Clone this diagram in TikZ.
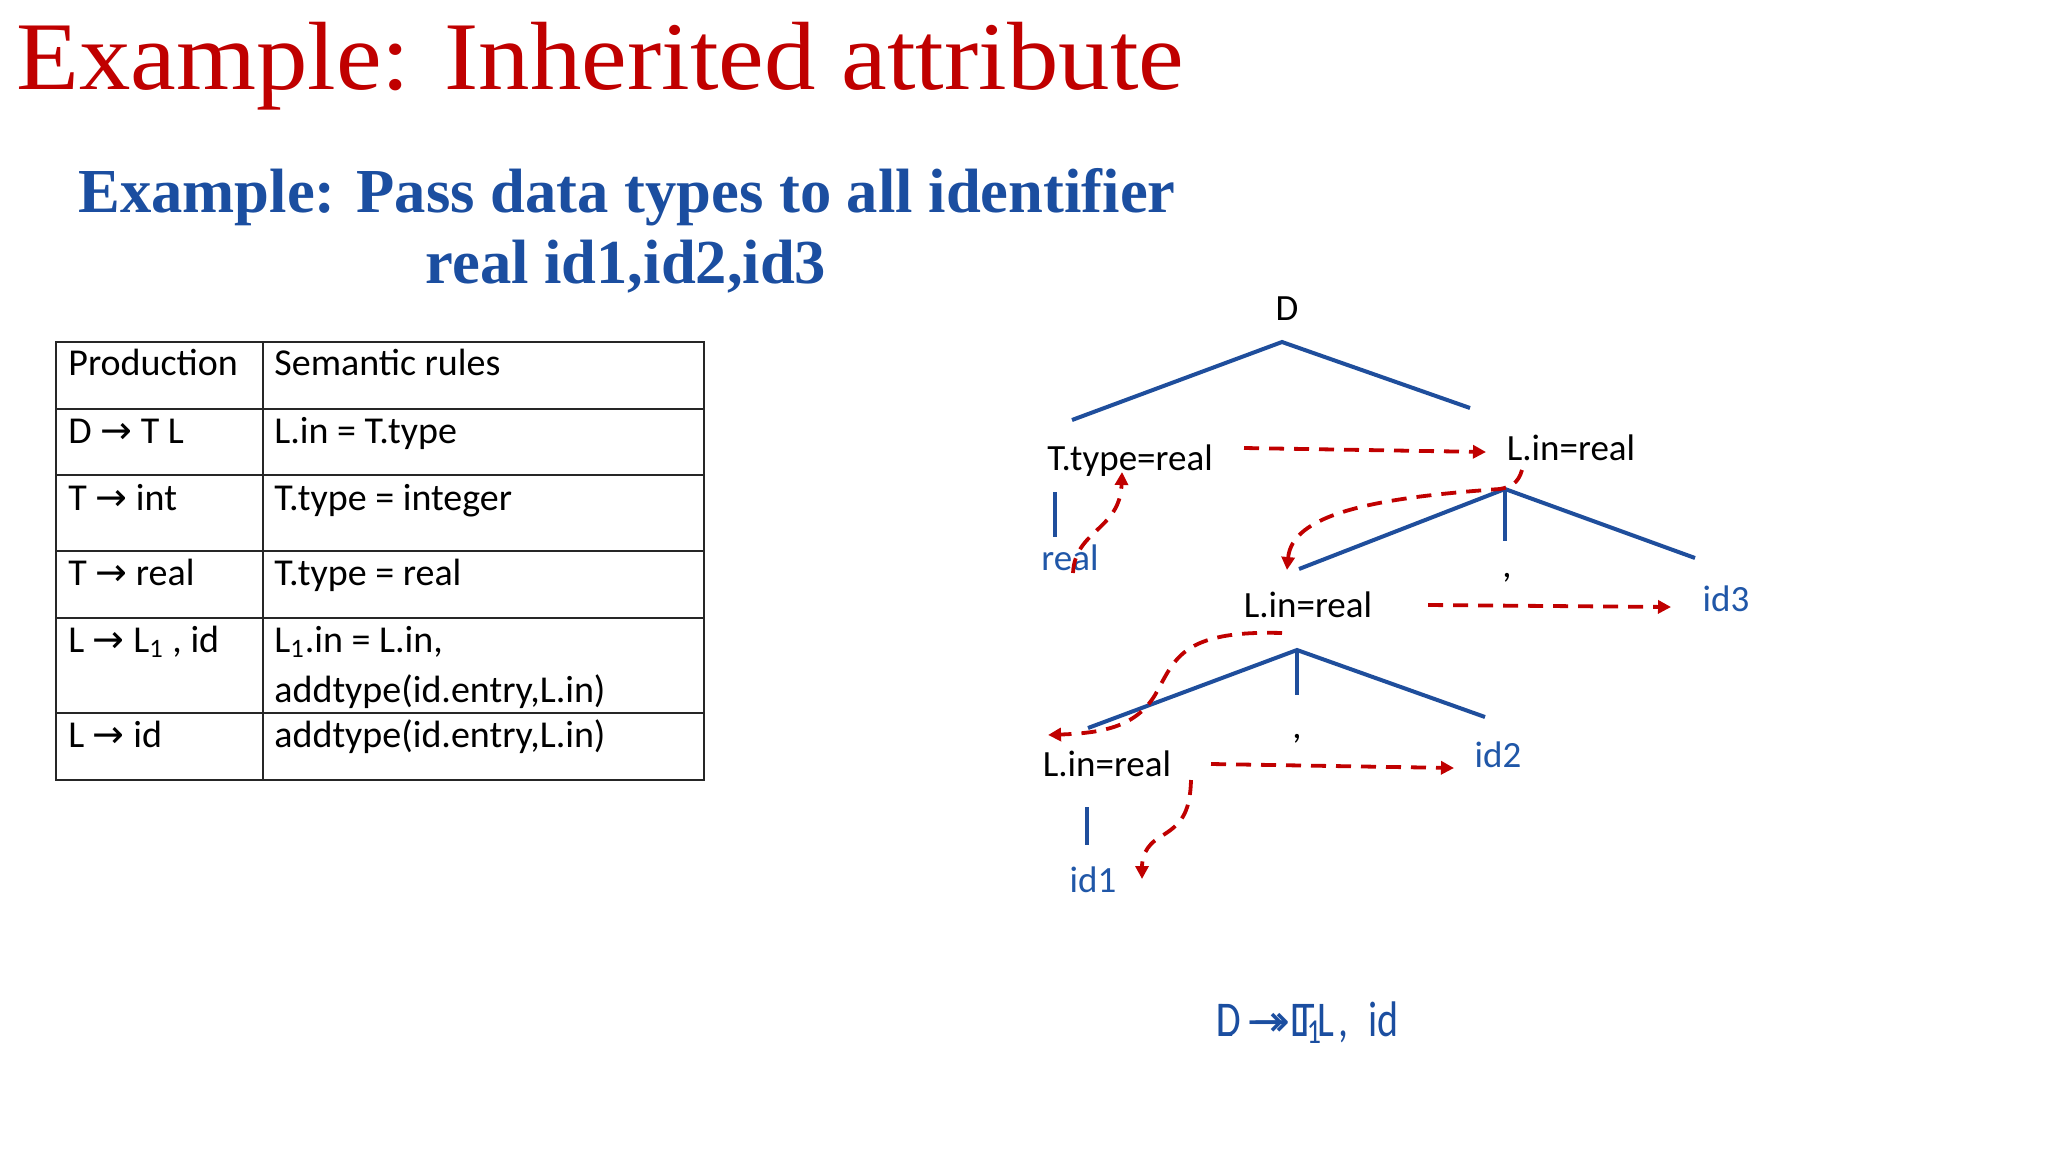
\documentclass[tikz,border=0pt]{standalone}
\usepackage{fontspec}
\setmainfont{Carlito}
\newfontfamily\titlefont[FakeStretch=1.06]{Liberation Serif}
\newfontfamily\subfont{Liberation Serif}
\newfontfamily\symf{DejaVu Sans}
\newfontfamily\narrowf[FakeStretch=0.8]{Carlito}
\newcommand\myarr{{\symf →}}
\newcommand\bigarr{{\symf\fontsize{22}{24}\selectfont →}}
\usetikzlibrary{arrows.meta}
\definecolor{tred}{HTML}{C00000}
\definecolor{sblue}{HTML}{1B4EA0}
\definecolor{lblue}{HTML}{1F4E9C}
\definecolor{tblue}{HTML}{2057A8}
\definecolor{dred}{HTML}{C00000}
\begin{document}
\begin{tikzpicture}[x=0.5pt,y=-0.5pt,
  tabtxt/.style={anchor=base west,inner sep=0pt,font=\fontsize{19}{23}\selectfont},
  trtxt/.style={anchor=base,inner sep=0pt,font=\fontsize{18.5}{22}\selectfont},
  idtxt/.style={trtxt,text=tblue},
  bottxt/.style={anchor=base west,inner sep=0pt,text=sblue,font=\narrowf\fontsize{25}{29}\selectfont},
  tline/.style={draw=lblue,line width=2pt},
  dep/.style={draw=dred,line width=1.9pt,dash pattern=on 7.5pt off 5pt,
    -{Triangle[length=6.5pt,width=6.5pt]}},
  grid/.style={draw=black!85,line width=1pt}]
\useasboundingbox (0,0) rectangle (2048,1152);
\fill[white] (0,0) rectangle (2048,1152);

% titles
\node[anchor=base west,inner sep=0pt,text=tred,font=\titlefont\fontsize{48.5}{58}\selectfont] (title) at (16,89) {Example: Inherited attribute};
\node[anchor=base,inner sep=0pt,text=sblue,font=\subfont\bfseries\fontsize{31.3}{38}\selectfont] (sub1) at (627,212) {Example: Pass data types to all identifier};
\node[anchor=base,inner sep=0pt,text=sblue,font=\subfont\bfseries\fontsize{31.3}{38}\selectfont] (sub2) at (626,283) {real id1,id2,id3};

% table
\draw[grid] (56,342) rectangle (704,780);
\draw[grid] (263,342) -- (263,780);
\foreach \yy in {409,475,551,618,713} \draw[grid] (56,\yy) -- (704,\yy);
\node[tabtxt] (p0) at (68,375) {Production};
\node[tabtxt] (s0) at (274,375) {Semantic rules};
\node[tabtxt] (p1) at (68,443) {D \myarr{} T L};
\node[tabtxt] (s1) at (274,443) {L.in = T.type};
\node[tabtxt] (p2) at (68,510) {T \myarr{} int};
\node[tabtxt] (s2) at (274,510) {T.type = integer};
\node[tabtxt] (p3) at (68,585) {T \myarr{} real};
\node[tabtxt] (s3) at (274,585) {T.type = real};
\node[tabtxt] (p4) at (68,652) {L \myarr{} L\textsubscript{1} , id};
\node[tabtxt] (s4) at (274,652) {L\textsubscript{1}.in = L.in,};
\node[tabtxt] (s4b) at (274,702) {addtype(id.entry,L.in)};
\node[tabtxt] (p5) at (68,747) {L \myarr{} id};
\node[tabtxt] (s5) at (274,747) {addtype(id.entry,L.in)};

% tree labels
\node[trtxt] (D) at (1287,320) {D};
\node[trtxt] (T) at (1130,470) {T.type=real};
\node[trtxt] (L1) at (1571,460) {L.in=real};
\node[idtxt] (real) at (1070,570) {real};
\node[trtxt] (c1) at (1507,577) {,};
\node[idtxt] (id3) at (1726,611) {id3};
\node[trtxt] (L2) at (1308,617) {L.in=real};
\node[trtxt] (c2) at (1297,738) {,};
\node[idtxt] (id2) at (1498,767) {id2};
\node[trtxt] (L3) at (1107,776) {L.in=real};
\node[idtxt] (id1) at (1093,892) {id1};

% tree edges
\coordinate (dA) at (1282,342); \coordinate (dL) at (1072,420); \coordinate (dR) at (1470,408);
\coordinate (tV1) at (1055,492); \coordinate (tV2) at (1055,537);
\coordinate (lA) at (1505,489); \coordinate (lL) at (1299,569); \coordinate (lM) at (1505,541); \coordinate (lR) at (1695,558);
\coordinate (mA) at (1297,650); \coordinate (mL) at (1088,728); \coordinate (mM) at (1297,695); \coordinate (mR) at (1485,717);
\coordinate (bV1) at (1087,807); \coordinate (bV2) at (1087,845);
\draw[tline] (dL) -- (dA) -- (dR);
\draw[tline] (tV1) -- (tV2);
\draw[tline] (lL) -- (lA) -- (lR);
\draw[tline] (lA) -- (lM);
\draw[tline] (mL) -- (mA) -- (mR);
\draw[tline] (mA) -- (mM);
\draw[tline] (bV1) -- (bV2);

% dependency arrows
\coordinate (a1s) at (1244,448); \coordinate (a1e) at (1486,452);
\draw[dep] (a1s) -- (a1e);
\coordinate (a2s) at (1073,573); \coordinate (a2e) at (1122,472);
\draw[dep] (a2s) .. controls (1075,530) and (1120,530) .. (a2e);
\coordinate (a3s) at (1522,470); \coordinate (a3m) at (1500,489); \coordinate (a3e) at (1287,570);
\draw[dep] (a3s) .. controls (1518,484) and (1510,487) .. (a3m) .. controls (1370,498) and (1292,515) .. (a3e);
\coordinate (a4s) at (1428,605); \coordinate (a4e) at (1671,607);
\draw[dep] (a4s) -- (a4e);
\coordinate (a5s) at (1282,633); \coordinate (a5m) at (1155,695); \coordinate (a5e) at (1048,735);
\draw[dep] (a5s) .. controls (1180,630) and (1175,660) .. (a5m) .. controls (1135,728) and (1100,733) .. (a5e);
\coordinate (a6s) at (1211,764); \coordinate (a6e) at (1454,768);
\draw[dep] (a6s) -- (a6e);
\coordinate (a7s) at (1191,780); \coordinate (a7m) at (1160,837); \coordinate (a7e) at (1142,879);
\draw[dep] (a7s) .. controls (1190,815) and (1180,825) .. (a7m) .. controls (1145,846) and (1142,858) .. (a7e);

% overlapping bottom text (as printed in the reference)
\node[bottxt] (b1) at (1216,1036) {D\hspace{6pt}\bigarr\hspace{3pt}T\hspace{1pt}L};
\node[bottxt] (b2) at (1216,1036) {L\hspace{7pt}\bigarr\hspace{3pt}L\textsubscript{1}\hspace{8pt},\hspace{10pt}id};
\end{tikzpicture}
\end{document}
